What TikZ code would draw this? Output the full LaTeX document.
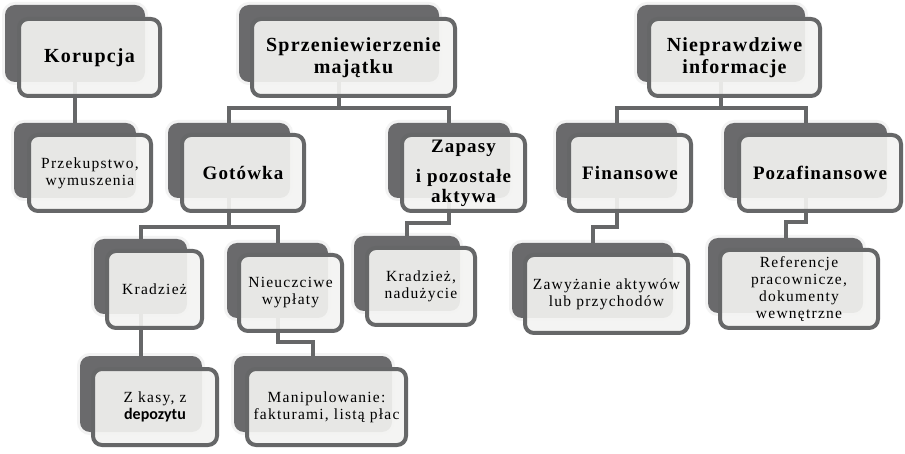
\documentclass[tikz,border=0pt]{standalone}
\usepackage{fontspec}
\setmainfont{Liberation Serif}
\newfontfamily\titlefont[LetterSpace=6]{Liberation Serif}
\newfontfamily\bodyfont[LetterSpace=8]{Liberation Serif}
\newfontfamily\depfont{Carlito}
\definecolor{darkc}{RGB}{106,106,108}
\definecolor{borderc}{RGB}{102,103,104}
\definecolor{haloc}{RGB}{243,243,243}
\definecolor{frontc}{RGB}{244,244,242}
\tikzset{
  darkbox/.style={fill=darkc, rounded corners=10pt, inner sep=0pt,
    preaction={draw=haloc, line width=6pt}},
  frontstyle/.style={draw=borderc, line width=4pt, fill=frontc, fill opacity=0.91,
    text opacity=1, rounded corners=9pt, inner sep=0pt, align=center},
  titletext/.style={font=\titlefont\bfseries\fontsize{20}{22}\selectfont},
  subtext/.style={font=\titlefont\bfseries\fontsize{19}{20}\selectfont},
  bodytext/.style={font=\bodyfont\fontsize{15.5}{17}\selectfont},
  conn/.style={draw=borderc, line width=4pt}
}
\newcommand\dbox[5]{\node[darkbox, minimum width={(#4-#2)*1pt}, minimum height={(#5-#3)*1pt}] (#1D) at ({(#2+#4)/2},{(#3+#5)/2}) {};}
\newcommand\frontbox[7]{\node[frontstyle,#6, minimum width={(#4-#2-4)*1pt}, minimum height={(#5-#3-4)*1pt}] (#1F) at ({(#2+#4)/2},{(#3+#5)/2}) {#7};}
\begin{document}
\begin{tikzpicture}[x=1pt,y=-1pt]
\fill[white] (0,0) rectangle (905,454);
\useasboundingbox (0,0) rectangle (905,454);
% dark back boxes
\dbox{kor}{5}{5}{145}{82}
\dbox{spr}{239}{5}{439}{82}
\dbox{nie}{637}{5}{805}{82}
\dbox{prz}{14}{123}{136}{198}
\dbox{got}{168}{123}{290}{198}
\dbox{zap}{388}{123}{510}{198}
\dbox{fin}{556}{123}{677}{198}
\dbox{poz}{724}{123}{887}{198}
\dbox{kra}{94}{239}{187}{314}
\dbox{nwy}{227}{243}{328}{318}
\dbox{kna}{354}{236}{460}{311}
\dbox{zaw}{512}{243}{673}{318}
\dbox{ref}{708}{238}{863}{313}
\dbox{zka}{80}{356}{202}{432}
\dbox{man}{234}{356}{392}{432}
% connectors
\draw[conn] (korD.south) -- (korD.south |- przD.north);
\draw[conn] (sprD.south) -- (sprD.south |- 0,108) -| (gotD.north);
\draw[conn] (sprD.south |- 0,108) -| (zapD.north);
\draw[conn] (nieD.south) -- (nieD.south |- 0,108) -| (finD.north);
\draw[conn] (nieD.south |- 0,108) -| (pozD.north);
\draw[conn] (gotD.south) -- (gotD.south |- 0,227) -| (kraD.north);
\draw[conn] (gotD.south |- 0,227) -| (nwyD.north);
\draw[conn] (zapD.south) -- (zapD.south |- 0,223) -| (knaD.north);
\draw[conn] (finD.south) -- (finD.south |- 0,227) -| (zawD.north);
\draw[conn] (pozD.south) -- (pozD.south |- 0,222) -| (refD.north);
\draw[conn] (kraD.south) -- (kraD.south |- zkaD.north);
\draw[conn] (nwyD.south) -- (nwyD.south |- 0,342) -| (manD.north);
% front boxes with text
\frontbox{kor}{17}{17}{162}{98}{titletext}{Korupcja}
\frontbox{spr}{250}{17}{457}{98}{titletext}{Sprzeniewierzenie\\majątku}
\frontbox{nie}{647}{17}{822}{98}{titletext}{Nieprawdziwe\\informacje}
\frontbox{prz}{27}{133}{153}{213}{bodytext}{Przekupstwo,\\wymuszenia}
\frontbox{got}{180}{133}{306}{213}{subtext}{Gotówka}
\frontbox{zap}{400}{133}{527}{213}{subtext}{Zapasy\\[10pt]i pozostałe\\aktywa}
\frontbox{fin}{567}{133}{693}{213}{subtext}{Finansowe}
\frontbox{poz}{737}{133}{903}{213}{subtext}{Pozafinansowe}
\frontbox{kra}{105}{249}{204}{330}{bodytext}{Kradzież}
\frontbox{nwy}{237}{253}{344}{333}{bodytext}{Nieuczciwe\\wypłaty}
\frontbox{kna}{365}{246}{477}{327}{bodytext}{Kradzież,\\nadużycie}
\frontbox{zaw}{523}{253}{690}{335}{bodytext}{Zawyżanie aktywów\\lub przychodów}
\frontbox{ref}{718}{248}{880}{330}{bodytext}{Referencje\\pracownicze,\\dokumenty\\wewnętrzne}
\frontbox{zka}{91}{367}{219}{447}{bodytext}{Z kasy, z\\{\depfont\bfseries\fontsize{16}{17}\selectfont depozytu}}
\frontbox{man}{245}{367}{408}{447}{bodytext}{Manipulowanie:\\fakturami, listą płac}
\end{tikzpicture}
\end{document}
